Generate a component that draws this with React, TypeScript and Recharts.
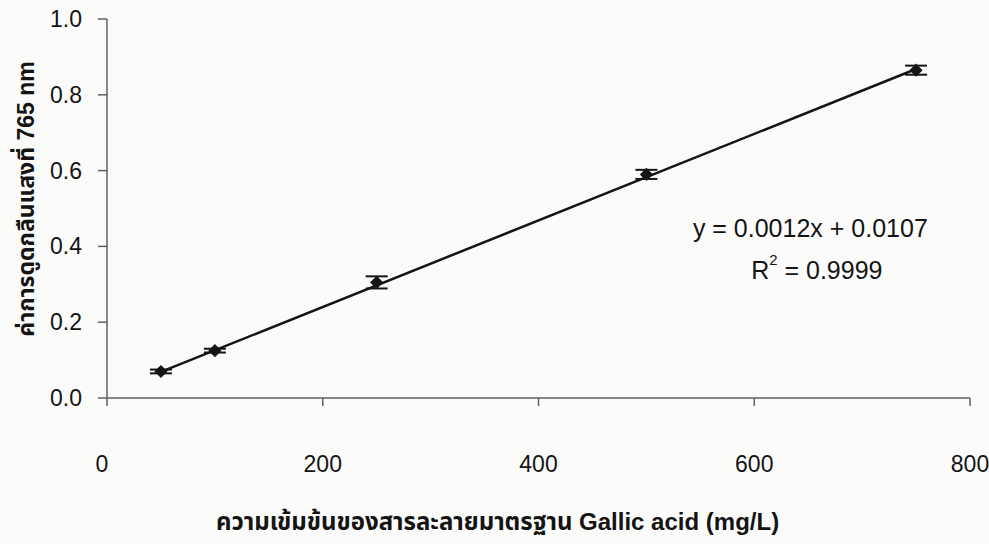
import React from 'react';
import {
  ComposedChart,
  Scatter,
  XAxis,
  YAxis,
  ErrorBar,
  ReferenceLine,
  ReferenceDot,
  Label,
} from 'recharts';

// Gallic acid standard curve: concentration (mg/L) vs absorbance at 765 nm
const concentrations = [50, 100, 250, 500, 750];
const absorbance = [0.07, 0.125, 0.305, 0.59, 0.865];
const absorbanceSd = [0.005, 0.005, 0.016, 0.012, 0.012];

const xTicks = [0, 200, 400, 600, 800];
const yTicks = [0, 0.2, 0.4, 0.6, 0.8, 1.0];

// linear trendline end points
const trendX = [50, 750];
const trendY = [0.069, 0.868];

const equationText = 'y = 0.0012x + 0.0107';
const r2Text = '0.9999';

const xTitle = 'ความเข้มข้นของสารละลายมาตรฐาน Gallic acid (mg/L)';
const yTitle = 'ค่าการดูดกลืนแสงที่ 765 nm';

const points = concentrations.map((x, i) => ({ x, y: absorbance[i], err: absorbanceSd[i] }));

const FONT = '"Liberation Sans", Arial, "Noto Sans Thai", "Loma", sans-serif';
const AXIS = '#606060';
const INK = '#141414';

const XTick = (props: any) => {
  const { x, y, payload } = props;
  const shift = payload.value === 0 ? -5 : 0;
  return (
    <text x={x + shift} y={y + 64} textAnchor="middle" fontFamily={FONT} fontSize={23} fill={INK}>
      {payload.value}
    </text>
  );
};

const YTick = (props: any) => {
  const { x, y, payload } = props;
  return (
    <text x={x - 2} y={y + 8} textAnchor="end" fontFamily={FONT} fontSize={23} fill={INK}>
      {Number(payload.value).toFixed(1)}
    </text>
  );
};

const Marker = (props: any) => {
  const { cx, cy } = props;
  const r = 5.5;
  return (
    <path
      d={`M${cx},${cy - r} L${cx + r},${cy} L${cx},${cy + r} L${cx - r},${cy} Z`}
      fill={INK}
      stroke={INK}
      strokeWidth={1.5}
    />
  );
};

const XTitle = (props: any) => {
  const { viewBox } = props;
  return (
    <text
      x={viewBox.x + viewBox.width / 2 - 41}
      y={viewBox.y + 132}
      textAnchor="middle"
      fontFamily={FONT}
      fontSize={24}
      fontWeight="bold"
      fill={INK}
    >
      {xTitle}
    </text>
  );
};

const YTitle = (props: any) => {
  const { viewBox } = props;
  const cx = 26;
  const cy = viewBox.y + 180;
  return (
    <text
      x={cx}
      y={cy}
      transform={`rotate(-90 ${cx} ${cy})`}
      textAnchor="middle"
      dominantBaseline="central"
      fontFamily={FONT}
      fontSize={23}
      fontWeight="bold"
      fill={INK}
    >
      {yTitle}
    </text>
  );
};

const EquationLabel = (props: any) => {
  const { viewBox } = props;
  return (
    <text x={viewBox.x} y={viewBox.y} textAnchor="middle" dominantBaseline="central" fontFamily={FONT} fontSize={25} fill={INK}>
      {equationText}
    </text>
  );
};

const R2Label = (props: any) => {
  const { viewBox } = props;
  return (
    <text x={viewBox.x} y={viewBox.y} textAnchor="middle" dominantBaseline="central" fontFamily={FONT} fontSize={25} fill={INK}>
      <tspan>R</tspan>
      <tspan dy={-11} fontSize={15}>2</tspan>
      <tspan dy={11}>{` = ${r2Text}`}</tspan>
    </text>
  );
};

export default function App() {
  return (
    <div style={{ position: 'absolute', left: 0, top: 0, width: 989, height: 544, background: '#fbfbfa' }}>
      <ComposedChart
        width={989}
        height={544}
        data={points}
        margin={{ top: 19, right: 19, bottom: 0, left: 0 }}
      >
        <XAxis
          type="number"
          dataKey="x"
          domain={[0, 800]}
          ticks={xTicks}
          stroke={AXIS}
          strokeWidth={1.5}
          tickSize={8}
          tick={<XTick />}
          height={146}
          interval={0}
        >
          <Label content={<XTitle />} />
        </XAxis>
        <YAxis
          type="number"
          dataKey="y"
          domain={[0, 1]}
          ticks={yTicks}
          stroke={AXIS}
          strokeWidth={1.5}
          tickSize={9}
          tickMargin={14}
          tick={<YTick />}
          width={107}
          interval={0}
        >
          <Label content={<YTitle />} />
        </YAxis>
        <ReferenceLine
          segment={[
            { x: trendX[0], y: trendY[0] },
            { x: trendX[1], y: trendY[1] },
          ]}
          stroke={INK}
          strokeWidth={2.5}
        />
        <Scatter dataKey="y" shape={<Marker />} isAnimationActive={false}>
          <ErrorBar dataKey="err" direction="y" width={11} stroke={INK} strokeWidth={2} />
        </Scatter>
        <ReferenceDot x={652} y={0.449} r={0} stroke="none" fill="none" label={<EquationLabel />} />
        <ReferenceDot x={658} y={0.338} r={0} stroke="none" fill="none" label={<R2Label />} />
      </ComposedChart>
    </div>
  );
}
